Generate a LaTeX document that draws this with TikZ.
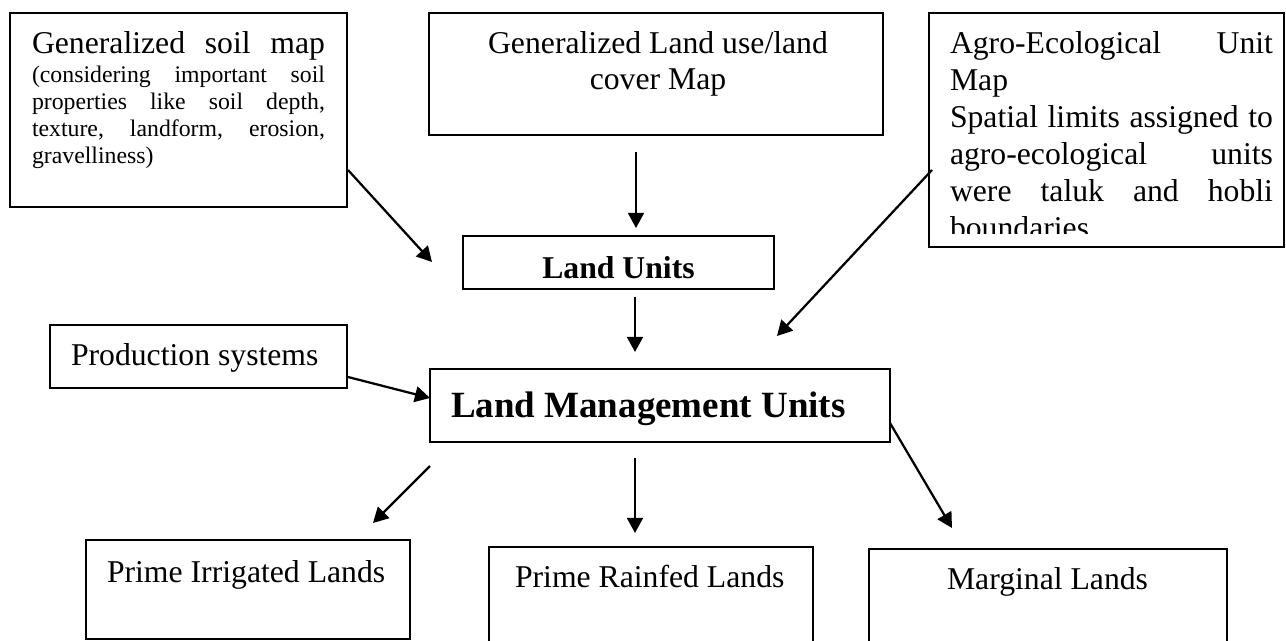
\documentclass[tikz,border=0pt]{standalone}
\usepackage{fontspec}
\setmainfont{Liberation Serif}
\usetikzlibrary{arrows.meta,calc}
\newlength\pxu \setlength\pxu{0.3785pt}
\tikzset{
  boxnode/.style={draw, line width=0.75pt, rectangle, anchor=north west, inner sep=0pt, outer sep=0pt},
  txt/.style={inner sep=0pt, outer sep=0pt, font=\fontsize{12}{14}\selectfont},
  arr/.style={line width=0.85pt, -{Triangle[length=5.7pt,width=6pt]}},
}
\begin{document}
\begin{tikzpicture}[x=0.3785pt, y=-0.3785pt]
\clip (0,0) rectangle (1286,641);
\fill[white] (0,0) rectangle (1286,641);

% boxes
\node[boxnode, minimum width=337\pxu, minimum height=194\pxu] (soil) at (10,13) {};
\node[boxnode, minimum width=454\pxu, minimum height=122\pxu] (landuse) at (429,13) {};
\node[boxnode, minimum width=355\pxu, minimum height=234\pxu] (agro) at (929,13) {};
\node[boxnode, minimum width=311\pxu, minimum height=53\pxu] (landunits) at (463,236) {};
\node[boxnode, minimum width=297\pxu, minimum height=63\pxu] (prod) at (50,325) {};
\node[boxnode, minimum width=460\pxu, minimum height=73\pxu] (lmu) at (430,369) {};
\node[boxnode, minimum width=324\pxu, minimum height=99\pxu] (irr) at (86,540) {};
\node[boxnode, minimum width=324\pxu, minimum height=110\pxu] (rain) at (489,547) {};
\node[boxnode, minimum width=358\pxu, minimum height=110\pxu] (marg) at (869,549) {};

% texts
\node[txt, anchor=base west] (soiltxt) at (32,53) {\vtop{%
  \hbox to 293\pxu{Generalized\hfill soil\hfill map}%
  \vskip2\pxu
  \fontsize{9}{10}\selectfont\baselineskip=27\pxu
  \hbox to 293\pxu{(considering\hfill important\hfill soil}%
  \hbox to 293\pxu{properties\hfill like\hfill soil\hfill depth,}%
  \hbox to 293\pxu{texture,\hfill landform,\hfill erosion,}%
  \hbox{gravelliness)}}};

\node[txt, anchor=base] (landusetxt) at (658,53) {\vtop{\baselineskip=36.5\pxu
  \hbox to 400\pxu{\hfil Generalized Land use/land\hfil}%
  \hbox to 400\pxu{\hfil cover Map\hfil}}};

\begin{scope}
\clip (929,13) rectangle (1284,233);
\node[txt, anchor=base west] (agrotxt) at (950,53) {\vtop{\baselineskip=37\pxu
  \hbox to 323\pxu{Agro-Ecological\hfill Unit}%
  \hbox{Map}%
  \hbox to 323\pxu{Spatial\hfill limits\hfill assigned\hfill to}%
  \hbox to 323\pxu{agro-ecological\hfill units}%
  \hbox to 323\pxu{were\hfill taluk\hfill and\hfill hobli}%
  \hbox{boundaries}}};
\end{scope}

\node[txt, anchor=base, font=\fontsize{12}{14}\selectfont\bfseries] (lutxt) at (618.5,278) {Land Units};
\node[txt, anchor=base west] (prodtxt) at (71,365) {Production systems};
\node[txt, anchor=base west, font=\fontsize{14}{16}\selectfont\bfseries] (lmutxt) at (451,417) {Land Management Units};
\node[txt, anchor=base west] (irrtxt) at (107,582) {Prime Irrigated Lands};
\node[txt, anchor=base west] (raintxt) at (515,587) {Prime Rainfed Lands};
\node[txt, anchor=base west] (margtxt) at (947,589) {Marginal Lands};

% free arrow ends
\coordinate (c1) at (432,262);
\coordinate (c3) at (777,336);

% arrows
\draw[arr] ($(soil.south east)+(1,-37)$) -- (c1);
\draw[arr] ($(landuse.south west)+(207,17)$) -- ($(landunits.north west)+(173,-8)$);
\draw[arr] ($(agro.south west)+(3,-77)$) -- (c3);
\draw[arr] ($(landunits.south west)+(172,8)$) -- ($(lmu.north west)+(205,-17)$);
\draw[arr] ($(prod.south east)+(1,-11)$) -- ($(lmu.north west)+(0,29)$);
\draw[arr] ($(lmu.south west)+(0,24)$) -- ($(irr.north east)+(-37,-17)$);
\draw[arr] ($(lmu.south west)+(205,16)$) -- ($(rain.north west)+(146,-14)$);
\draw[arr] ($(lmu.south east)+(0,-19)$) -- ($(marg.north west)+(83,-21)$);
\end{tikzpicture}
\end{document}
